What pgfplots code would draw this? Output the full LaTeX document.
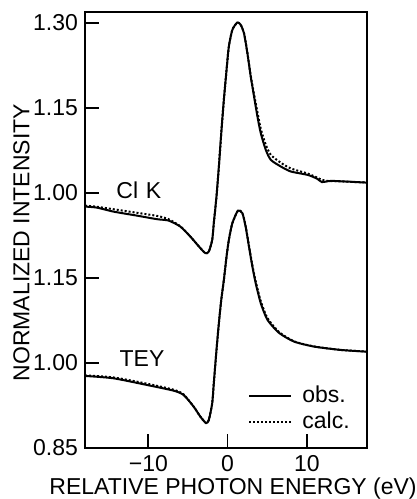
\documentclass[border=0pt]{standalone}
\usepackage{fontspec}
\setmainfont{Liberation Sans}
\usepackage{pgfplots}
\pgfplotsset{compat=1.18}
\begin{document}
\begin{tikzpicture}[font=\fontsize{11.5}{13.5}\selectfont]
\useasboundingbox (-42.5pt,-25.5pt) rectangle (166pt,224pt);
\begin{axis}[
  at={(0,0)}, anchor=south west,
  scale only axis, width=141pt, height=218pt,
  xmin=-18, xmax=17.6, ymin=0.85, ymax=1.619,
  xtick={-10,0,10}, xticklabels={−10,0,10},
  ytick={0.85,1.00,1.15,1.30,1.45,1.60},
  yticklabels={0.85,1.00,1.15,1.00,1.15,1.30},
  tick align=inside, xtick pos=lower, ytick pos=left,
  major tick length=7pt,
  tick style={line width=0.9pt, black},
  axis line style={line width=0.9pt},
  /pgf/number format/assume math mode=true,
  xlabel={RELATIVE PHOTON ENERGY (eV)},
  ylabel={NORMALIZED INTENSITY},
  xlabel style={at={(axis description cs:0.525,-0.092)}, anchor=center},
  ylabel style={at={(axis description cs:-0.225,0.471)}, anchor=center},
  legend style={draw=none, fill=none, at={(0.578,0.152)}, anchor=north west,
    legend cell align=left, row sep=-1pt, inner sep=0pt,
    nodes={inner xsep=5pt}},
  legend image code/.code={\draw[#1] (0pt,0pt) -- (21pt,0pt);},
]
% upper: Cl K (offset +0.30)
\addplot[black, line width=1pt, smooth, tension=0.4] coordinates {
(-18,1.2758) (-16.5,1.2740) (-14.43,1.2670) (-11.5,1.2600) (-8.92,1.2536) (-7.45,1.2511)
(-5.96,1.2405) (-4.70,1.2229) (-3.43,1.2024) (-2.79,1.1936) (-2.37,1.1965)
(-1.94,1.2171) (-1.74,1.2465) (-1.40,1.2936) (-1.10,1.3464) (-0.80,1.4052)
(-0.47,1.4641) (-0.13,1.5170) (0.16,1.5581) (0.60,1.5875) (1.23,1.6005)
(1.65,1.5964) (2.07,1.5818) (2.50,1.5464) (2.92,1.5052) (3.34,1.4700)
(3.77,1.4346) (4.19,1.4053) (4.82,1.3759) (5.46,1.3582) (6.73,1.3464)
(8.0,1.3376) (10.11,1.3317) (11.3,1.3250) (11.9,1.3190) (12.65,1.3205) (13.45,1.3210) (17.6,1.3181)
};
\addlegendentry{obs.}
\addplot[black, line width=1pt, densely dotted, smooth, tension=0.4] coordinates {
(-18,1.2775) (-16.5,1.2755) (-14.43,1.2712) (-11.5,1.2650) (-8.92,1.2594) (-7.45,1.2536)
(-5.96,1.2410) (-4.70,1.2229) (-3.43,1.2024) (-2.79,1.1936) (-2.37,1.1965)
(-1.94,1.2171) (-1.74,1.2465) (-1.40,1.2936) (-1.10,1.3464) (-0.80,1.4052)
(-0.47,1.4641) (-0.13,1.5170) (0.16,1.5581) (0.60,1.5875) (1.23,1.6005)
(1.65,1.5964) (2.07,1.5818) (2.50,1.5470) (2.92,1.5070) (3.34,1.4740)
(3.77,1.4420) (4.19,1.4130) (4.82,1.3850) (5.46,1.3670) (6.73,1.3530)
(8.0,1.3430) (10.11,1.3340) (11.3,1.3270) (11.9,1.3230) (12.65,1.3210) (13.45,1.3208) (17.6,1.3181)
};
\addlegendentry{calc.}
% lower: TEY
\addplot[black, line width=1pt, smooth, tension=0.4] coordinates {
(-18,0.9771) (-14.43,0.9730) (-10.19,0.9612) (-6.81,0.9511) (-5.55,0.9435)
(-4.28,0.9229) (-3.43,0.9052) (-2.72,0.8940) (-2.37,0.8994) (-1.94,0.9289)
(-1.74,0.9641) (-1.40,1.0229) (-1.10,1.0700) (-0.80,1.1112) (-0.47,1.1465)
(-0.13,1.1876) (0.16,1.2170) (0.60,1.2464) (1.31,1.2687) (1.87,1.2641)
(2.28,1.2405) (2.70,1.2052) (3.13,1.1699) (3.55,1.1406) (4.19,1.1053)
(5.04,1.0759) (6.5,1.0530) (8.41,1.0376) (10.95,1.0288) (14.34,1.0229) (17.6,1.0199)
};
\addplot[black, line width=1pt, densely dotted, smooth, tension=0.4] coordinates {
(-18,0.9780) (-14.43,0.9745) (-10.19,0.9635) (-6.81,0.9528) (-5.55,0.9445)
(-4.28,0.9229) (-3.43,0.9052) (-2.72,0.8940) (-2.37,0.8994) (-1.94,0.9289)
(-1.74,0.9641) (-1.40,1.0229) (-1.10,1.0700) (-0.80,1.1112) (-0.47,1.1465)
(-0.13,1.1876) (0.16,1.2170) (0.60,1.2464) (1.31,1.2687) (1.87,1.2641)
(2.28,1.2410) (2.70,1.2070) (3.13,1.1725) (3.55,1.1440) (4.19,1.1090)
(5.04,1.0790) (6.5,1.0545) (8.41,1.0380) (10.95,1.0290) (14.34,1.0229) (17.6,1.0199)
};
\node at (axis cs:-11.2,1.304) {Cl\,\,K};
\node at (axis cs:-10.8,1.007) {TEY};
\end{axis}
\end{tikzpicture}
\end{document}
